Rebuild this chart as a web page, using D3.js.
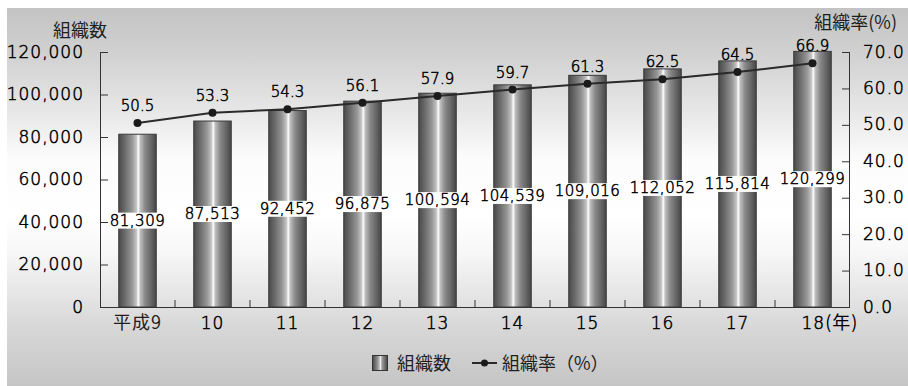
<!DOCTYPE html>
<html>
<head>
<meta charset="utf-8">
<script src="https://cdn.jsdelivr.net/npm/d3@7/dist/d3.min.js"></script>
<style>
  html, body { margin: 0; padding: 0; background: #fff; }
  svg { display: block; }
  .num { font-family: "DejaVu Sans", sans-serif; font-weight: 200; fill: #000; stroke: #000; stroke-width: 0.5px; }
  .jp { font-family: "Noto Sans CJK JP", sans-serif; fill: #1e1e1e; }
</style>
</head>
<body>
<svg id="chart" width="908" height="386"></svg>
<script>
// Years (Heisei era) along the x axis
const categories = ["平成9", "10", "11", "12", "13", "14", "15", "16", "17", "18"];
// Number of organisations (bars, left axis)
const orgCounts = [81309, 87513, 92452, 96875, 100594, 104539, 109016, 112052, 115814, 120299];
// Organisation rate in % (line, right axis)
const orgRates = [50.5, 53.3, 54.3, 56.1, 57.9, 59.7, 61.3, 62.5, 64.5, 66.9];
// Axis ticks
const leftTicks = [0, 20000, 40000, 60000, 80000, 100000, 120000];
const rightTicks = [0, 10, 20, 30, 40, 50, 60, 70];

const svg = d3.select("#chart");
const W = 908, H = 386;
const plot = { left: 100, right: 850, top: 52, bottom: 307 };

const defs = svg.append("defs");

// Background: grey at top and bottom, pale through the middle
const bg = defs.append("linearGradient").attr("id", "bgGrad")
  .attr("x1", 0).attr("y1", 0).attr("x2", 0).attr("y2", 1);
[[0, "#c3c3c3"], [0.13, "#d2d2d2"], [0.28, "#e8e8e8"], [0.4, "#fcfcfc"],
 [0.55, "#ffffff"], [0.64, "#f8f8f8"], [0.74, "#e8e8e8"], [0.84, "#d8d8d8"], [1, "#c5c5c5"]]
  .forEach(([o, c]) => bg.append("stop").attr("offset", o).attr("stop-color", c));

// Cylinder-like shading across each bar
const barGrad = defs.append("linearGradient").attr("id", "barGrad")
  .attr("x1", 0).attr("y1", 0).attr("x2", 1).attr("y2", 0);
[[0, "#4a4a4a"], [0.15, "#686868"], [0.35, "#959595"], [0.47, "#c4c4c4"],
 [0.52, "#ffffff"], [0.57, "#c0c0c0"], [0.7, "#8a8a8a"], [0.88, "#626262"], [1, "#464646"]]
  .forEach(([o, c]) => barGrad.append("stop").attr("offset", o).attr("stop-color", c));

svg.append("rect").attr("x", 7).attr("y", 8).attr("width", W - 7).attr("height", H - 8)
  .attr("fill", "url(#bgGrad)");

// Scales
const x = d3.scaleBand().domain(categories).range([plot.left, plot.right]).paddingInner(0.5).paddingOuter(0.25);
const yL = d3.scaleLinear().domain([0, 120000]).range([plot.bottom, plot.top]);
const yR = d3.scaleLinear().domain([0, 70]).range([plot.bottom, plot.top]);
const cx = d => x(d) + x.bandwidth() / 2;

// Bars
svg.append("g").selectAll("rect").data(categories).join("rect")
  .attr("x", d => x(d))
  .attr("width", x.bandwidth())
  .attr("y", (d, i) => yL(orgCounts[i]))
  .attr("height", (d, i) => yL(0) - yL(orgCounts[i]))
  .attr("fill", "url(#barGrad)")
  .attr("stroke", "#3a3a3a").attr("stroke-width", 1);

// Left axis
const fmt = d3.format(",");
const axL = svg.append("g").attr("transform", `translate(${plot.left},0)`)
  .call(d3.axisLeft(yL).tickValues(leftTicks).tickSize(-8).tickPadding(16).tickFormat(fmt));
axL.selectAll("text").attr("class", "num").attr("font-size", 17).attr("letter-spacing", 1).attr("dy", "0.3em");

// Right axis
const axR = svg.append("g").attr("transform", `translate(${plot.right},0)`)
  .call(d3.axisRight(yR).tickValues(rightTicks).tickSize(-8).tickPadding(13).tickFormat(d3.format(".1f")));
axR.selectAll("text").attr("class", "num").attr("font-size", 17).attr("letter-spacing", 1).attr("dy", "0.3em");

// Bottom axis with small separators between categories
const axB = svg.append("g").attr("transform", `translate(0,${plot.bottom})`)
  .call(d3.axisBottom(x).tickSize(0).tickPadding(9).tickFormat(""));
[axL, axR, axB].forEach(a => {
  a.attr("font-family", null).attr("font-size", null);
  a.selectAll(".domain").attr("stroke", "#333").attr("stroke-width", 1);
  a.selectAll(".tick line").attr("stroke", "#333");
});
axB.select(".domain").attr("d", `M${plot.left},0.5H${plot.right}`);
axL.select(".domain").attr("d", `M0.5,${plot.top}V${plot.bottom}`);
axR.select(".domain").attr("d", `M-0.5,${plot.top}V${plot.bottom}`);

svg.append("g").selectAll("line").data(categories.slice(1)).join("line")
  .attr("x1", d => x(d) - x.step() * x.paddingInner() / 2)
  .attr("x2", d => x(d) - x.step() * x.paddingInner() / 2)
  .attr("y1", plot.bottom).attr("y2", plot.bottom - 7)
  .attr("stroke", "#333");

// Category labels (year suffix on the last one)
const xl = svg.append("g");
categories.forEach((c, i) => {
  const last = i === categories.length - 1;
  const t = xl.append("text").attr("class", c.match(/^\d+$/) ? "num" : "jp")
    .attr("font-size", 17).attr("y", plot.bottom + 22);
  if (!last) {
    t.attr("x", cx(c)).attr("text-anchor", "middle").text(c)
      .attr("letter-spacing", 1);
    if (c === "平成9") t.attr("class", "jp").attr("font-size", 18);
  } else {
    t.attr("x", cx(c) - 11).attr("text-anchor", "start").attr("letter-spacing", 1);
    t.append("tspan").text(c);
    t.append("tspan").style("font-family", "'Noto Sans CJK JP', sans-serif")
      .style("font-weight", 400).style("stroke", "none").attr("font-size", 18).text("(年)");
  }
});

// Value labels at bar mid-height, on a white backing
const bl = svg.append("g");
categories.forEach((c, i) => {
  const yMid = (yL(orgCounts[i]) + yL(0)) / 2;
  const g = bl.append("g");
  const t = g.append("text").attr("class", "num").attr("font-size", 15)
    .attr("letter-spacing", 0.5)
    .attr("x", cx(c)).attr("y", yMid + 5).attr("text-anchor", "middle")
    .text(fmt(orgCounts[i]));
  const bb = t.node().getBBox();
  g.insert("rect", "text").attr("x", bb.x).attr("y", bb.y + 1)
    .attr("width", bb.width).attr("height", bb.height - 2).attr("fill", "#fff");
});

// Rate line with markers
const line = d3.line().x((d, i) => cx(categories[i])).y(d => yR(d));
svg.append("path").datum(orgRates).attr("d", line)
  .attr("fill", "none").attr("stroke", "#2a2a2a").attr("stroke-width", 2);
svg.append("g").selectAll("circle").data(orgRates).join("circle")
  .attr("cx", (d, i) => cx(categories[i])).attr("cy", d => yR(d)).attr("r", 4)
  .attr("fill", "#1a1a1a");
svg.append("g").selectAll("text").data(orgRates).join("text")
  .attr("class", "num").attr("font-size", 15)
  .attr("x", (d, i) => cx(categories[i])).attr("y", d => yR(d) - 12)
  .attr("text-anchor", "middle").text(d => d.toFixed(1));

// Axis titles
svg.append("text").attr("class", "jp").attr("font-size", 18)
  .attr("x", 53).attr("y", 37).text("組織数");
svg.append("text").attr("class", "jp").attr("font-size", 18)
  .attr("x", 897).attr("y", 29).attr("text-anchor", "end").text("組織率(%)");

// Legend
const lg = svg.append("g");
lg.append("rect").attr("x", 372.5).attr("y", 355.5).attr("width", 15).attr("height", 15)
  .attr("fill", "url(#barGrad)").attr("stroke", "#333");
lg.append("text").attr("class", "jp").attr("font-size", 18).attr("x", 397).attr("y", 370).text("組織数");
lg.append("line").attr("x1", 472).attr("x2", 497).attr("y1", 363).attr("y2", 363)
  .attr("stroke", "#2a2a2a").attr("stroke-width", 2);
lg.append("circle").attr("cx", 484.5).attr("cy", 363).attr("r", 3.5).attr("fill", "#1a1a1a");
lg.append("text").attr("class", "jp").attr("font-size", 18).attr("x", 502).attr("y", 370).text("組織率（%）");
</script>
</body>
</html>
